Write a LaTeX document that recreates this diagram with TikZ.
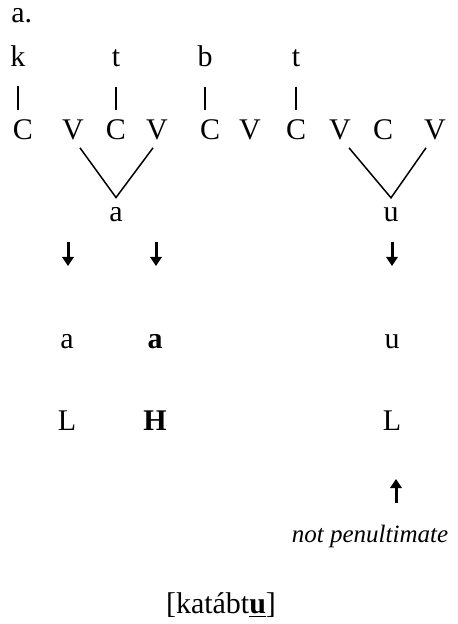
\documentclass[tikz,border=0pt]{standalone}
\usepackage{fontspec}
\setmainfont{Liberation Serif}
\usetikzlibrary{arrows.meta}

\begin{document}
\begin{tikzpicture}[
  x=0.5pt, y=-0.5pt,
  seg/.style={anchor=base, inner sep=0pt, font=\fontsize{15}{18}\selectfont},
  assoc/.style={line width=0.8pt, draw=black, shorten <=9.5pt, shorten >=5pt},
  spread/.style={line width=0.75pt, draw=black, line join=miter},
  derive/.style={
    -{Triangle[length=4.5pt,width=5.6pt]},
    line width=1.5pt
  }
]
\useasboundingbox (0,0) rectangle (458,624);

% ------------------------------------------------
% Label
% ------------------------------------------------
\node[seg, anchor=base west] (lbl) at (11,23) {a.};

% ------------------------------------------------
% Root consonants
% ------------------------------------------------
\node[seg] (k)  at (18,67)  {k};
\node[seg] (t1) at (116,67) {t};
\node[seg] (b)  at (205,67) {b};
\node[seg] (t2) at (296,67) {t};

% ------------------------------------------------
% CV skeleton
% ------------------------------------------------
\node[seg] (C1) at (23,140)  {C};
\node[seg] (V1) at (73,140)  {V};
\node[seg] (C2) at (116,140) {C};
\node[seg] (V2) at (157,140) {V};
\node[seg] (C3) at (210,140) {C};
\node[seg] (V3) at (250,140) {V};
\node[seg] (C4) at (296,140) {C};
\node[seg] (V4) at (340,140) {V};
\node[seg] (C5) at (383,140) {C};
\node[seg] (V5) at (435,140) {V};

% association lines
\draw[assoc] (k.south)  -- (k.south |- C1.north);
\draw[assoc] (t1.south) -- (t1.south |- C2.north);
\draw[assoc] (b.south)  -- (b.south |- C3.north);
\draw[assoc] (t2.south) -- (t2.south |- C4.north);

% ------------------------------------------------
% Melody vowels
% ------------------------------------------------
\node[seg] (a0) at (116,222) {a};
\node[seg] (u0) at (391,222) {u};

\draw[spread] ([xshift=3.5pt,yshift=-3.5pt]V1.south)
  -- ([yshift=5pt]a0.north)
  -- ([xshift=-2pt,yshift=-3.5pt]V2.south);
\draw[spread] ([xshift=4.5pt,yshift=-3.5pt]V4.south)
  -- ([yshift=5pt]u0.north)
  -- ([xshift=-4.5pt,yshift=-3.5pt]V5.south);

% ------------------------------------------------
% Surface vowels and tones
% ------------------------------------------------
\coordinate (d1) at (68,242);
\coordinate (d2) at (156,242);
\coordinate (d3) at (392,242);

\node[seg] (a1) at (67,348)  {a};
\node[seg] (a2) at (155,348) {\textbf{a}};
\node[seg] (u1) at (392,348) {u};

\draw[derive] (d1) -- ++(0,24);
\draw[derive] (d2) -- ++(0,24);
\draw[derive] (d3) -- ++(0,24);

\node[seg] (L1) at (67,430)  {L};
\node[seg] (H1) at (155,430) {\textbf{H}};
\node[seg] (L2) at (392,430) {L};

% ------------------------------------------------
% Note and output form
% ------------------------------------------------
\node[seg, font=\fontsize{12.5}{15}\selectfont] (note) at (370,542) {\textit{not penultimate}};
\coordinate (up) at (396,503);
\draw[derive] (up) -- ++(0,-24);

\node[seg] (out) at (221,613) {[katábt\underline{\textbf{u}}]};

\end{tikzpicture}
\end{document}
